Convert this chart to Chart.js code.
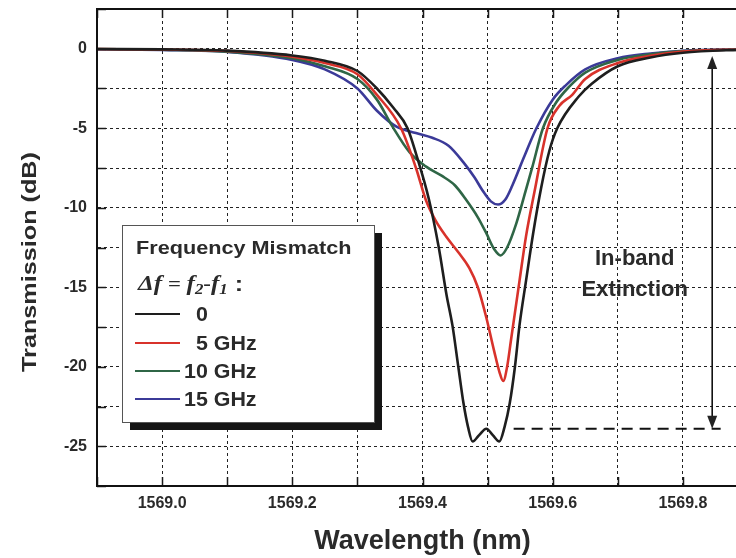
<!DOCTYPE html>
<html>
<head>
<meta charset="utf-8">
<script src="https://cdn.jsdelivr.net/npm/chart.js@4.4.0/dist/chart.umd.min.js"></script>
<style>
  html, body { margin: 0; padding: 0; background: #fff; overflow: hidden; }
  #wrap { position: absolute; left: 0; top: 0; width: 760px; height: 558px; }
</style>
</head>
<body>
<div id="wrap"><canvas id="chart" width="760" height="558"></canvas></div>
<script>
// wavelength (nm) / transmission (dB), one pair per mismatch
const black0X = [1568.9, 1569.0, 1569.1, 1569.2, 1569.25, 1569.3, 1569.33, 1569.355, 1569.377, 1569.39, 1569.41, 1569.425, 1569.437, 1569.446, 1569.455, 1569.463, 1569.47, 1569.477, 1569.487, 1569.498, 1569.508, 1569.518, 1569.526, 1569.534, 1569.542, 1569.549, 1569.559, 1569.57, 1569.582, 1569.595, 1569.607, 1569.64, 1569.66, 1569.7, 1569.75, 1569.8, 1569.9]
const black0Y = [-0.02, -0.04, -0.12, -0.42, -0.75, -1.4, -2.5, -3.7, -5.0, -6.6, -9.5, -12.5, -15.5, -17.4, -20.0, -22.3, -23.8, -24.7, -24.3, -23.9, -24.3, -24.7, -23.8, -22.3, -20.0, -17.4, -14.6, -11.6, -8.8, -6.4, -5.0, -3.0, -2.2, -1.1, -0.55, -0.25, -0.04]

const red5X = [1568.9, 1569.0, 1569.1, 1569.2, 1569.25, 1569.3, 1569.33, 1569.367, 1569.39, 1569.405, 1569.42, 1569.436, 1569.455, 1569.472, 1569.485, 1569.498, 1569.51, 1569.518, 1569.524, 1569.53, 1569.536, 1569.549, 1569.559, 1569.572, 1569.592, 1569.61, 1569.63, 1569.65, 1569.7, 1569.75, 1569.8, 1569.9]
const red5Y = [-0.02, -0.05, -0.14, -0.5, -0.9, -1.6, -2.9, -5.0, -7.5, -9.5, -10.8, -11.8, -12.8, -13.8, -15.0, -16.9, -19.0, -20.3, -20.9, -20.0, -18.3, -14.6, -11.8, -9.0, -5.0, -3.6, -2.9, -1.9, -0.9, -0.45, -0.18, -0.03]

const green10X = [1568.9, 1569.0, 1569.1, 1569.2, 1569.25, 1569.3, 1569.33, 1569.354, 1569.38, 1569.405, 1569.43, 1569.45, 1569.467, 1569.485, 1569.498, 1569.51, 1569.52, 1569.53, 1569.544, 1569.558, 1569.569, 1569.585, 1569.605, 1569.625, 1569.65, 1569.7, 1569.75, 1569.8, 1569.9]
const green10Y = [-0.02, -0.06, -0.18, -0.6, -1.1, -1.9, -3.2, -4.9, -6.5, -7.4, -8.0, -8.6, -9.5, -10.6, -11.6, -12.6, -13.0, -12.5, -11.0, -9.0, -7.4, -5.0, -3.4, -2.4, -1.5, -0.7, -0.35, -0.15, -0.03]

const blue15X = [1568.9, 1569.0, 1569.1, 1569.2, 1569.25, 1569.3, 1569.33, 1569.36, 1569.39, 1569.415, 1569.44, 1569.462, 1569.48, 1569.492, 1569.505, 1569.516, 1569.527, 1569.538, 1569.555, 1569.575, 1569.6, 1569.62, 1569.65, 1569.7, 1569.75, 1569.8, 1569.9]
const blue15Y = [-0.03, -0.08, -0.2, -0.7, -1.3, -2.5, -3.9, -4.9, -5.3, -5.6, -6.1, -7.1, -8.1, -8.9, -9.6, -9.8, -9.5, -8.6, -6.9, -5.0, -3.2, -2.3, -1.3, -0.6, -0.3, -0.13, -0.03]

const seriesNames = ['0', '5 GHz', '10 GHz', '15 GHz']
const seriesColors = ['#1e1e1e', '#d8322b', '#2f6646', '#3b3a98']

const xGridValues = [1568.9, 1569.0, 1569.1, 1569.2, 1569.3, 1569.4, 1569.5, 1569.6, 1569.7, 1569.8, 1569.9]
const xTickLabels = ['', '1569.0', '', '1569.2', '', '1569.4', '', '1569.6', '', '1569.8', '']
const yTickLabels = ['-25', '-20', '-15', '-10', '-5', '0']

// extinction marker: dB level of the dashed line and arrow ends
const extinctionLevel = -23.9
const extinctionTop = -0.45

const toPoints = (xs, ys) => xs.map((x, i) => ({ x: x, y: ys[i] }))
const allX = [black0X, red5X, green10X, blue15X]
const allY = [black0Y, red5Y, green10Y, blue15Y]

const datasets = seriesNames.map((name, i) => ({
  label: name,
  data: toPoints(allX[i], allY[i]),
  borderColor: seriesColors[i],
  borderWidth: 2.6,
  pointRadius: 0,
  cubicInterpolationMode: 'monotone',
  fill: false,
  order: i
}))

const FONT = '"Liberation Sans", Arial, sans-serif'
const INK = '#2a2a2a'

// text drawn a little wider, like the scanned figure
const wideText = (ctx, txt, x, y, sx) => {
  ctx.save()
  ctx.translate(x, y)
  ctx.scale(sx, 1)
  ctx.fillText(txt, 0, 0)
  ctx.restore()
  return ctx.measureText(txt).width * sx
}

const extras = {
  id: 'extras',
  beforeDatasetsDraw(chart) {
    const { ctx, chartArea: a, scales: { x, y } } = chart
    ctx.save()
    ctx.strokeStyle = '#1a1a1a'
    ctx.lineWidth = 1.5
    ctx.setLineDash([])
    // inner tick marks
    xGridValues.forEach(v => {
      const px = Math.round(x.getPixelForValue(v)) + 0.5
      ctx.beginPath()
      ctx.moveTo(px, a.bottom); ctx.lineTo(px, a.bottom - 9)
      ctx.moveTo(px, a.top); ctx.lineTo(px, a.top + 9)
      ctx.stroke()
    })
    y.ticks.forEach(t => {
      const py = Math.round(y.getPixelForValue(t.value)) + 0.5
      ctx.beginPath()
      ctx.moveTo(a.left, py); ctx.lineTo(a.left + 9, py)
      ctx.stroke()
    })
    ctx.restore()
  },
  afterDatasetsDraw(chart) {
    const { ctx, chartArea: a, scales: { x, y } } = chart
    ctx.save()
    // frame
    ctx.strokeStyle = '#111'
    ctx.lineWidth = 2
    ctx.setLineDash([])
    ctx.strokeRect(a.left, a.top, a.right - a.left, a.bottom - a.top)

    // y axis title, drawn here so it can sit a bit low and wide as in the figure
    ctx.save()
    ctx.translate(30, 262)
    ctx.rotate(-Math.PI / 2)
    ctx.fillStyle = INK
    ctx.font = 'bold 21px ' + FONT
    ctx.textAlign = 'center'
    ctx.textBaseline = 'middle'
    ctx.scale(1.2, 1)
    ctx.fillText('Transmission (dB)', 0, 0)
    ctx.restore()

    // dashed extinction level
    const yl = y.getPixelForValue(extinctionLevel)
    ctx.lineWidth = 2
    ctx.setLineDash([11, 7])
    ctx.beginPath()
    ctx.moveTo(x.getPixelForValue(1569.54), yl)
    ctx.lineTo(x.getPixelForValue(1569.858), yl)
    ctx.stroke()

    // double arrow
    ctx.setLineDash([])
    const ax = x.getPixelForValue(1569.845)
    const yt = y.getPixelForValue(extinctionTop)
    ctx.lineWidth = 1.6
    ctx.beginPath()
    ctx.moveTo(ax, yt + 4); ctx.lineTo(ax, yl - 4)
    ctx.stroke()
    ctx.fillStyle = '#222'
    ctx.beginPath()
    ctx.moveTo(ax, yt); ctx.lineTo(ax - 5, yt + 13); ctx.lineTo(ax + 5, yt + 13); ctx.closePath()
    ctx.fill()
    ctx.beginPath()
    ctx.moveTo(ax, yl); ctx.lineTo(ax - 5, yl - 13); ctx.lineTo(ax + 5, yl - 13); ctx.closePath()
    ctx.fill()

    // annotation text
    ctx.fillStyle = INK
    ctx.font = 'bold 22px ' + FONT
    ctx.textAlign = 'center'
    ctx.textBaseline = 'middle'
    const tx = x.getPixelForValue(1569.726)
    ctx.fillText('In-band', tx, y.getPixelForValue(-13.2))
    ctx.fillText('Extinction', tx, y.getPixelForValue(-15.2))

    // legend box with shadow
    const bx = 122, by = 225, bw = 252, bh = 197
    ctx.fillStyle = '#151515'
    ctx.fillRect(bx + 8, by + 8, bw, bh)
    ctx.fillStyle = '#fff'
    ctx.fillRect(bx, by, bw, bh)
    ctx.strokeStyle = '#555'
    ctx.lineWidth = 1
    ctx.strokeRect(bx + 0.5, by + 0.5, bw, bh)

    ctx.textAlign = 'left'
    ctx.fillStyle = INK
    ctx.font = 'bold 19px ' + FONT
    wideText(ctx, 'Frequency Mismatch', bx + 14, by + 24, 1.14)

    // Δf = f2 - f1 :
    let cx = bx + 16
    const ly = by + 60
    const put = (txt, font, dy) => {
      ctx.font = font
      cx += wideText(ctx, txt, cx, ly + (dy || 0), 1.2)
    }
    const it = 'italic bold 21px "Liberation Serif", serif'
    const sub = 'italic bold 14px "Liberation Serif", serif'
    put('\u0394f', it)
    put(' = ', 'bold 19px "Liberation Serif", serif')
    put('f', it)
    put('2', sub, 5)
    put('-', 'bold 19px "Liberation Serif", serif')
    put('f', it)
    put('1', sub, 5)
    put(' :', 'bold 21px ' + FONT)

    const rows = [by + 89, by + 118, by + 146, by + 174]
    const textX = [bx + 74, bx + 74, bx + 62, bx + 62]
    rows.forEach((ry, i) => {
      ctx.strokeStyle = seriesColors[i]
      ctx.lineWidth = 2.2
      ctx.beginPath()
      ctx.moveTo(bx + 13, ry); ctx.lineTo(bx + 58, ry)
      ctx.stroke()
      ctx.fillStyle = INK
      ctx.font = 'bold 20px ' + FONT
      wideText(ctx, seriesNames[i], textX[i], ry + 1, 1.07)
    })
    ctx.restore()
  }
}

new Chart(document.getElementById('chart'), {
  type: 'line',
  data: { datasets: datasets },
  options: {
    responsive: false,
    animation: false,
    layout: { padding: { top: 9, right: 12, left: 0, bottom: 0 } },
    plugins: {
      legend: { display: false },
      tooltip: { enabled: false }
    },
    scales: {
      x: {
        type: 'linear',
        min: 1568.9,
        max: 1569.9,
        afterBuildTicks: (scale) => { scale.ticks = xGridValues.map(v => ({ value: v })) },
        afterFit: (scale) => {
          scale.height = 72
          scale.paddingLeft = 0
          scale.paddingRight = 0
        },
        ticks: {
          autoSkip: false,
          maxRotation: 0,
          padding: 8,
          color: INK,
          font: { family: FONT, size: 16, weight: 'bold' },
          callback: (v, i) => xTickLabels[i]
        },
        grid: { color: '#222', lineWidth: 1, drawTicks: false },
        border: { display: true, color: '#111', width: 2, dash: [3, 3] },
        title: {
          display: true,
          text: 'Wavelength (nm)',
          color: INK,
          font: { family: FONT, size: 27, weight: 'bold' },
          padding: { top: 6, bottom: 0 }
        }
      },
      y: {
        min: -27.5,
        max: 2.5,
        afterFit: (scale) => {
          scale.width = 97
          scale.paddingTop = 0
          scale.paddingBottom = 0
        },
        ticks: {
          stepSize: 2.5,
          padding: 10,
          color: INK,
          font: { family: FONT, size: 16, weight: 'bold' },
          callback: (v) => (v % 5 === 0 && yTickLabels.includes(String(v))) ? String(v) : ''
        },
        grid: { color: '#222', lineWidth: 1, drawTicks: false },
        border: { display: true, color: '#111', width: 2, dash: [3, 3] },
        title: { display: false }
      }
    }
  },
  plugins: [extras]
})
</script>
</body>
</html>
